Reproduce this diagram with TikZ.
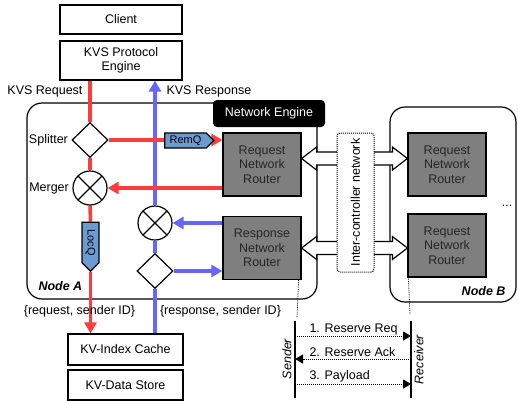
\documentclass[tikz,border=0pt]{standalone}
\usepackage{fontspec}
\setmainfont{Liberation Sans}
\usetikzlibrary{shapes.geometric,shapes.symbols,arrows.meta,calc,positioning,backgrounds}
\definecolor{reqred}{HTML}{FF3B3B}
\definecolor{respblue}{HTML}{6666FF}
\definecolor{queuefill}{HTML}{6C9BD2}
\definecolor{routerfill}{HTML}{7F7F7F}

\tikzset{
  hostbox/.style={draw, line width=1.2pt, fill=white, minimum width=122pt, minimum height=29pt, inner sep=1pt, align=center},
  router/.style={draw, line width=1.2pt, fill=routerfill, minimum width=78pt, minimum height=63pt, inner sep=1pt, align=center, text=black!85},
  splitter/.style={diamond, draw, line width=1.2pt, fill=white, minimum width=36pt, minimum height=35pt, inner sep=0pt},
  merger/.style={circle, draw, line width=1.2pt, fill=white, minimum size=34pt, inner sep=0pt,
    path picture={\draw[line width=1.2pt] (path picture bounding box.north west) -- (path picture bounding box.south east)
      (path picture bounding box.north east) -- (path picture bounding box.south west);}},
  queue/.style={signal, signal to=east, draw, line width=1.2pt, fill=queuefill, inner sep=1pt, font=\fontsize{11}{13}\selectfont},
  nodebox/.style={draw, line width=1.2pt, rounded corners=15pt},
  reqline/.style={draw=reqred, line width=3.5pt},
  respline/.style={draw=respblue, line width=3.5pt},
  bigtip/.style={-{Triangle[length=11pt,width=12pt]}},
  msg/.style={densely dotted, line width=1pt, -{Triangle[length=8pt,width=9pt]}},
}

% hollow two-way arrow between two points on one row
\newcommand{\fatlink}[2]{%
  \draw[line width=1.2pt, fill=white] (#1) -- ++(15,-11.5) -- ++(0,5) -- ($(#2)+(-15,-6.5)$) -- ++(0,-5)
    -- (#2) -- ++(-15,11.5) -- ++(0,-5) -- ($(#1)+(15,6.5)$) -- ++(0,5) -- cycle;}

\begin{document}
\begin{tikzpicture}[x=1pt, y=-1pt, font=\fontsize{12.5}{14.5}\selectfont]
  \useasboundingbox (0,0) rectangle (518,400);

  % hosts
  \node[hostbox] (client) at (121,19.5) {Client};
  \node[hostbox, minimum height=39pt] (kvs) at (121,60.5) {KVS Protocol\\Engine};
  \node[hostbox, minimum width=115pt, minimum height=31pt] (cache) at (125.5,349.5) {KV-Index Cache};
  \node[hostbox, minimum width=115pt, minimum height=30pt] (store) at (125.5,385) {KV-Data Store};

  % node A datapath
  \node[splitter] (reqsplit) at (90,140) {};
  \node[merger] (reqmerge) at (90,188) {};
  \node[merger] (respmerge) at (155,223) {};
  \node[splitter] (respsplit) at (155,271) {};
  \node[left=0pt of reqsplit] (splitlbl) {Splitter};
  \node[left=0pt of reqmerge] (mergelbl) {Merger};
  \node[queue, rotate=-90, minimum width=49pt, minimum height=17pt] (locq) at (90.5,242.5) {LocQ};
  \node[queue, minimum width=49pt, minimum height=15pt] (remq) at (185.5,140.5) {RemQ};

  % routers
  \node[router] (reqA) at (262,164.5) {Request\\Network\\Router};
  \node[router] (respA) at (262,248) {Response\\Network\\Router};
  \node[router] (reqB) at (447,164.5) {Request\\Network\\Router};
  \node[router] (reqB2) at (447,245.5) {Request\\Network\\Router};

  \begin{scope}[on background layer]
    \node[nodebox, minimum width=290pt, minimum height=196pt] (nodeA) at (172,201) {};
    \node[nodebox, minimum width=126pt, minimum height=195pt] (nodeB) at (453,204.5) {};
    % response path
    \draw[respline] (cache.north -| respsplit) -- (respsplit.south);
    \draw[respline] (respsplit.north) -- (respmerge.south);
    \draw[respline, bigtip] (respmerge.north) -- (kvs.south -| respmerge);
    \draw[respline, bigtip] (respsplit.east) -- (respsplit.east -| respA.west);
    \draw[respline, bigtip] (respmerge.east -| respA.west) -- (respmerge.east);
    % request path
    \draw[reqline] (kvs.south -| reqsplit) -- (reqsplit.north);
    \draw[reqline] (reqsplit.south) -- (reqmerge.north);
    \draw[reqline] (reqmerge.south) -- (locq.west);
    \draw[reqline, bigtip] (locq.east) -- (cache.north -| locq.east);
    \draw[reqline, bigtip] (reqsplit.east) -- (reqsplit.east -| reqA.west);
    \draw[reqline, bigtip] (reqmerge.east -| reqA.west) -- (reqmerge.east);
  \end{scope}

  \node[fill=black, text=white, rounded corners=4pt, minimum width=112pt, minimum height=27pt] (neteng) at (269,113.5) {Network Engine};

  % inter-controller links
  \coordinate (ra) at ($(reqA.east)+(0,-6)$);
  \coordinate (rb) at (reqB.west |- ra);
  \coordinate (sa) at (respA.east);
  \coordinate (sb) at (reqB2.west |- sa);
  \fatlink{ra}{rb}
  \fatlink{sa}{sb}
  \node[draw, densely dotted, line width=1pt, rounded corners=3pt, fill=white, rotate=90,
    minimum width=139pt, minimum height=37pt, inner sep=1pt] (icn) at (355.5,202.5) {Inter-controller network};

  % labels
  \node[anchor=east] (reqlbl) at (86,91) {KVS Request};
  \node[anchor=west] (resplbl) at (163,91) {KVS Response};
  \node (reqtag) at (79.5,311) {\{request, sender ID\}};
  \node (resptag) at (220.5,311) {\{response, sender ID\}};
  \node[anchor=west] (nameA) at (35,286) {\bfseries\itshape Node A};
  \node[anchor=east] (nameB) at (509,291) {\bfseries\itshape Node B};
  \node (more) at (507,206) {...};

  % reservation handshake
  \coordinate (sndtop) at (295,321);
  \coordinate (sndbot) at (295,398);
  \coordinate (rcvtop) at (411,321);
  \coordinate (rcvbot) at (411,398);
  \draw[line width=1.2pt] (sndtop) -- (sndbot);
  \draw[line width=1.2pt] (rcvtop) -- (rcvbot);
  \draw[densely dotted, line width=0.8pt] ([xshift=-3pt]respA.south east) -- ([xshift=2pt,yshift=3pt]sndtop);
  \draw[densely dotted, line width=0.8pt] ([xshift=1pt]reqB2.south west) -- ([xshift=-1pt,yshift=6pt]rcvtop);
  \foreach \i/\y in {1/336,2/359,3/384} {
    \coordinate (s\i) at (295,\y);
    \coordinate (r\i) at (411,\y);
  }
  \draw[msg] (s1) -- (r1);
  \draw[msg] (r2) -- (s2);
  \draw[msg] (s3) -- (r3);
  \node[anchor=west] (m1) at (306,329) {1. Reserve Req};
  \node[anchor=west] (m2) at (306,352) {2. Reserve Ack};
  \node[anchor=west] (m3) at (306,376) {3. Payload};
  \node[rotate=90] (sndlbl) at (287,359) {\itshape Sender};
  \node[rotate=90] (rcvlbl) at (419,359.5) {\itshape Receiver};
\end{tikzpicture}
\end{document}
